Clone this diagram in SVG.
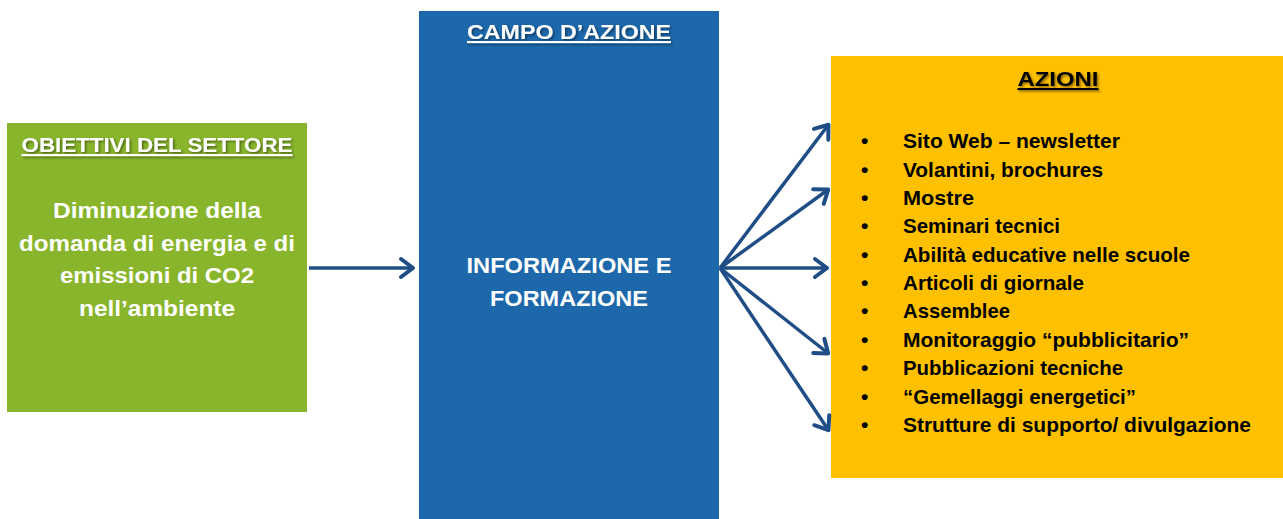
<svg xmlns="http://www.w3.org/2000/svg" width="1283" height="519" viewBox="0 0 1283 519">
<style>
.hdr{font-family:"Liberation Sans",Arial,sans-serif;font-weight:bold;text-decoration:underline;text-anchor:middle;font-size:21px}
.wt{fill:#FFFFFF}
.body{font-family:"Liberation Sans",Arial,sans-serif;font-weight:bold;fill:#FFFFFF;text-anchor:middle;font-size:21.5px}
.li{font-family:"Liberation Sans",Arial,sans-serif;font-weight:bold;fill:#000000;font-size:21px}
.conn{stroke:#1F4E86;stroke-width:3.5;fill:none;marker-end:url(#ah)}
</style>
<defs>
<filter id="sh" x="-10%" y="-30%" width="120%" height="160%">
<feDropShadow dx="1.5" dy="1.5" stdDeviation="1" flood-color="#000" flood-opacity="0.45"/>
</filter>
<marker id="ah" markerUnits="userSpaceOnUse" markerWidth="30" markerHeight="30" viewBox="-15 -15 30 30" refX="0" refY="0" orient="auto" overflow="visible">
<path d="M-13,-9 L-1,0 L-13,9" fill="none" stroke="#1F4E86" stroke-width="4" stroke-linecap="round" stroke-linejoin="round"/>
</marker>
</defs>
<rect width="1283" height="519" fill="#FFFFFF"/>
<g id="obiettivi">
<rect x="7" y="123" width="300" height="289" fill="#88B52C"/>
<text class="hdr wt" x="157" y="152" textLength="271" lengthAdjust="spacingAndGlyphs" filter="url(#sh)">OBIETTIVI DEL SETTORE</text>
<text class="body" x="157" y="218" textLength="208" lengthAdjust="spacingAndGlyphs">Diminuzione della</text>
<text class="body" x="157" y="251" textLength="276" lengthAdjust="spacingAndGlyphs">domanda di energia e di</text>
<text class="body" x="157" y="283" textLength="194" lengthAdjust="spacingAndGlyphs">emissioni di CO2</text>
<text class="body" x="157" y="316" textLength="156" lengthAdjust="spacingAndGlyphs">nell’ambiente</text>
</g>
<g id="campo">
<rect x="419" y="11" width="300" height="508" fill="#1C68AB"/>
<text class="hdr wt" x="569" y="39" textLength="204" lengthAdjust="spacingAndGlyphs" filter="url(#sh)">CAMPO D’AZIONE</text>
<text class="body" x="569" y="273" textLength="205" lengthAdjust="spacingAndGlyphs">INFORMAZIONE E</text>
<text class="body" x="569" y="306" textLength="158" lengthAdjust="spacingAndGlyphs">FORMAZIONE</text>
</g>
<g id="azioni">
<rect x="831" y="56" width="452" height="422" fill="#FFC000"/>
<text class="hdr" x="1058" y="86" fill="#000" textLength="81" lengthAdjust="spacingAndGlyphs" filter="url(#sh)">AZIONI</text>
<g class="li">
<text x="861" y="148">•</text><text x="903" y="148" textLength="217" lengthAdjust="spacingAndGlyphs">Sito Web – newsletter</text>
<text x="861" y="177">•</text><text x="903" y="177" textLength="200" lengthAdjust="spacingAndGlyphs">Volantini, brochures</text>
<text x="861" y="205">•</text><text x="903" y="205" textLength="71" lengthAdjust="spacingAndGlyphs">Mostre</text>
<text x="861" y="233">•</text><text x="903" y="233" textLength="157" lengthAdjust="spacingAndGlyphs">Seminari tecnici</text>
<text x="861" y="262">•</text><text x="903" y="262" textLength="287" lengthAdjust="spacingAndGlyphs">Abilità educative nelle scuole</text>
<text x="861" y="290">•</text><text x="903" y="290" textLength="181" lengthAdjust="spacingAndGlyphs">Articoli di giornale</text>
<text x="861" y="318">•</text><text x="903" y="318" textLength="107" lengthAdjust="spacingAndGlyphs">Assemblee</text>
<text x="861" y="347">•</text><text x="903" y="347" textLength="286" lengthAdjust="spacingAndGlyphs">Monitoraggio “pubblicitario”</text>
<text x="861" y="375">•</text><text x="903" y="375" textLength="220" lengthAdjust="spacingAndGlyphs">Pubblicazioni tecniche</text>
<text x="861" y="404">•</text><text x="903" y="404" textLength="233" lengthAdjust="spacingAndGlyphs">“Gemellaggi energetici”</text>
<text x="861" y="432">•</text><text x="903" y="432" textLength="348" lengthAdjust="spacingAndGlyphs">Strutture di supporto/ divulgazione</text>
</g>
</g>
<g id="connectors">
<path class="conn" d="M309,268 L414,268"/>
<path class="conn" d="M720,268 L829,124"/>
<path class="conn" d="M720,268 L829,189"/>
<path class="conn" d="M720,268 L828,268"/>
<path class="conn" d="M720,268 L829,354"/>
<path class="conn" d="M720,268 L829,431"/>
</g>
</svg>
